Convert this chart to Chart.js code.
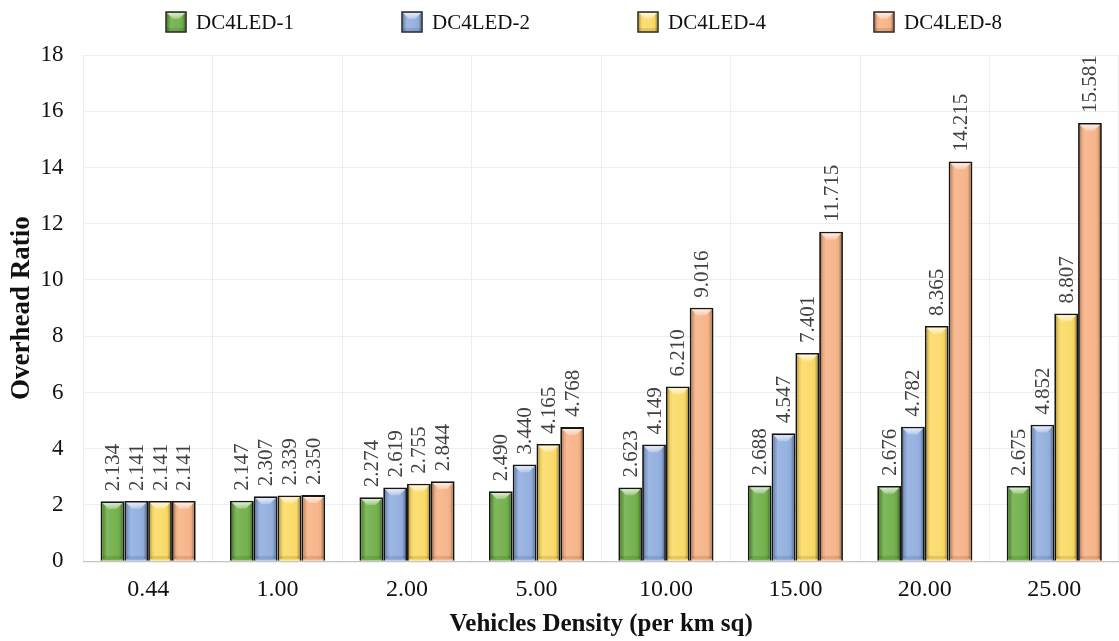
<!DOCTYPE html>
<html lang="en">
<head>
<meta charset="utf-8">
<script src="https://cdn.jsdelivr.net/npm/chart.js@4.4.0/dist/chart.umd.min.js"></script>
<title>Overhead Ratio vs Vehicles Density</title>
<style>
  body { margin: 0; background: #fff; }
  #wrap { width: 1119px; height: 641px; }
</style>
</head>
<body>
<div id="wrap"><canvas id="overheadChart" width="1119" height="641"></canvas></div>
<script>
// data
const densities = ['0.44', '1.00', '2.00', '5.00', '10.00', '15.00', '20.00', '25.00'];
const seriesNames = ['DC4LED-1', 'DC4LED-2', 'DC4LED-4', 'DC4LED-8'];
const led1 = [2.134, 2.147, 2.274, 2.490, 2.623, 2.688, 2.676, 2.675];
const led2 = [2.141, 2.307, 2.619, 3.440, 4.149, 4.547, 4.782, 4.852];
const led4 = [2.141, 2.339, 2.755, 4.165, 6.210, 7.401, 8.365, 8.807];
const led8 = [2.141, 2.350, 2.844, 4.768, 9.016, 11.715, 14.215, 15.581];
const yTicks = [0, 2, 4, 6, 8, 10, 12, 14, 16, 18];

const fills = ['#6dad45', '#8eacdd', '#fad962', '#f6b184'];
const serif = '"Liberation Serif", "Times New Roman", serif';

// bevel look on a rectangle (bars and legend boxes)
function bevel(ctx, left, top, w, h) {
    const right = left + w, bottom = top + h;
    ctx.save();
    let g = ctx.createLinearGradient(left, 0, right, 0);
    g.addColorStop(0, 'rgba(0,0,0,0.26)');
    g.addColorStop(0.14, 'rgba(0,0,0,0)');
    g.addColorStop(0.2, 'rgba(255,255,255,0.14)');
    g.addColorStop(0.78, 'rgba(255,255,255,0.05)');
    g.addColorStop(0.86, 'rgba(0,0,0,0)');
    g.addColorStop(1, 'rgba(0,0,0,0.3)');
    ctx.fillStyle = g;
    ctx.fillRect(left, top, w, h);
    // light chevron at the top
    const d = Math.min(6, h / 2);
    ctx.beginPath();
    ctx.moveTo(left, top);
    ctx.lineTo(right, top);
    ctx.lineTo(right - d, top + d);
    ctx.lineTo(left + d, top + d);
    ctx.closePath();
    g = ctx.createLinearGradient(0, top, 0, top + d);
    g.addColorStop(0, 'rgba(255,255,255,0.75)');
    g.addColorStop(1, 'rgba(255,255,255,0.25)');
    ctx.fillStyle = g;
    ctx.fill();
    // slightly darker bottom edge
    const e = Math.min(3, h / 2);
    ctx.fillStyle = 'rgba(0,0,0,0.1)';
    ctx.fillRect(left, bottom - e, w, e);
    ctx.restore();
}

const barDecor = {
    id: 'barDecor',
    afterDatasetsDraw(chart) {
        const ctx = chart.ctx;
        chart.data.datasets.forEach((ds, di) => {
            const meta = chart.getDatasetMeta(di);
            meta.data.forEach((bar, i) => {
                const p = bar.getProps(['x', 'y', 'base', 'width'], true);
                const bw = 1.8;
                bevel(ctx, p.x - p.width / 2 + bw, p.y + bw, p.width - 2 * bw, p.base - p.y - 2 * bw);
                // value label, rotated
                ctx.save();
                ctx.translate(p.x + 1, p.y - 10);
                ctx.rotate(-Math.PI / 2);
                ctx.font = '21px ' + serif;
                ctx.fillStyle = '#404040';
                ctx.textAlign = 'left';
                ctx.textBaseline = 'middle';
                ctx.fillText(ds.data[i].toFixed(3), 0, 0);
                ctx.restore();
            });
        });
    }
};

// legend drawn across the top
const topLegend = {
    id: 'topLegend',
    afterDraw(chart) {
        const ctx = chart.ctx;
        ctx.save();
        ctx.font = '21px ' + serif;
        const box = 20, gap = 10, spacing = 108;
        const widths = chart.data.datasets.map(ds => box + gap + ctx.measureText(ds.label).width);
        const total = widths.reduce((a, b) => a + b, 0) + spacing * (widths.length - 1);
        let x = 584 - total / 2;
        const cy = 22;
        chart.data.datasets.forEach((ds, i) => {
            ctx.fillStyle = ds.backgroundColor;
            ctx.fillRect(x, cy - box / 2, box, box);
            bevel(ctx, x + 1, cy - box / 2 + 1, box - 2, box - 2);
            ctx.lineWidth = 1.5;
            ctx.strokeStyle = '#262626';
            ctx.strokeRect(x, cy - box / 2, box, box);
            ctx.fillStyle = '#111';
            ctx.textAlign = 'left';
            ctx.textBaseline = 'middle';
            ctx.fillText(ds.label, x + box + gap, cy + 1);
            x += widths[i] + spacing;
        });
        ctx.restore();
    }
};

const values = [led1, led2, led4, led8];
const datasets = seriesNames.map((name, i) => ({
    label: name,
    data: values[i],
    backgroundColor: fills[i],
    borderColor: '#161616',
    borderWidth: 1.8,
    categoryPercentage: 0.735,
    barPercentage: 1.0
}));

new Chart(document.getElementById('overheadChart').getContext('2d'), {
    type: 'bar',
    data: { labels: densities, datasets: datasets },
    plugins: [barDecor, topLegend],
    options: {
        responsive: false,
        animation: false,
        layout: { padding: { top: 55, left: 6, right: 0, bottom: 1 } },
        plugins: {
            legend: { display: false },
            tooltip: { enabled: false }
        },
        scales: {
            x: {
                grid: { offset: true, color: '#eeeeee', drawTicks: false },
                border: { color: '#c4c4c4', width: 1.2 },
                ticks: { color: '#111', font: { family: serif, size: 24 }, padding: 14 },
                title: {
                    display: true,
                    text: 'Vehicles Density (per km sq)',
                    color: '#111',
                    font: { family: serif, size: 25, weight: 'bold' },
                    // tick padding is counted twice by the layout, take it back here
                    padding: { top: -8, bottom: 0 }
                }
            },
            y: {
                min: 0,
                max: 18,
                afterBuildTicks: axis => { axis.ticks = yTicks.map(v => ({ value: v })); },
                grid: { color: '#eeeeee', drawTicks: false },
                border: { display: false },
                ticks: { color: '#111', font: { family: serif, size: 23 }, padding: 20 },
                title: {
                    display: true,
                    text: 'Overhead Ratio',
                    color: '#111',
                    font: { family: serif, size: 27, weight: 'bold' },
                    padding: { top: 0, bottom: -18 }
                }
            }
        }
    }
});
</script>
</body>
</html>
